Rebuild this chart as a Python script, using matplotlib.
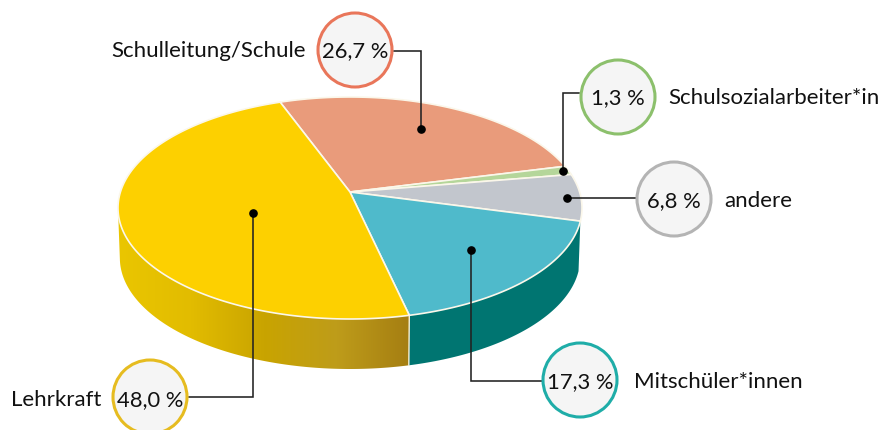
import numpy as np
import matplotlib
matplotlib.use("Agg")
import matplotlib.pyplot as plt
from matplotlib.patches import Circle, Polygon
from matplotlib.colors import LinearSegmentedColormap

# data
categories = ["Schulleitung/Schule", "Schulsozialarbeiter*in", "andere", "Mitschüler*innen", "Lehrkraft"]
shares = [26.7, 1.3, 6.8, 17.3, 48.0]
value_labels = ["26,7 %", "1,3 %", "6,8 %", "17,3 %", "48,0 %"]

# colours
top_colors = ["#E99B7B", "#B5D69A", "#C2C6CD", "#4FBACB", "#FDD000"]
ring_colors = ["#E9765A", "#8CC06C", "#B4B4B4", "#1FADA8", "#E6BC20"]

# pie geometry in pixels
CX, CY, A, B = 350, 208, 232, 111
DEPTH = 50
BOTTOM_SHRINK = 0.992
TILT = 0.144
START = 110.2

# circle centres, text and leader lines
bubbles = [(355, 50), (618, 97), (674, 199), (580, 380), (150, 397)]
baselines = [57, 104, 207, 388, 406]
label_x = [306, 668, 724, 634, 11]
label_ha = ["right", "left", "left", "left", "left"]
leaders = [
    [(394, 51), (421, 51), (421, 129)],
    [(579, 93), (563, 93), (563, 171)],
    [(636, 198), (567, 198)],
    [(542, 381), (471, 381), (471, 250)],
    [(189, 397), (253, 397), (253, 213)],
]

plt.rcParams["font.family"] = ["Lato", "DejaVu Sans"]


def project(theta):
    # the disc is seen in perspective, so its centre sits above the ellipse centre
    t = np.radians(theta)
    X, Y = np.cos(t), np.sin(t)
    d = 1 + TILT * Y
    u = X * np.sqrt(1 - TILT ** 2) / d
    v = (Y + TILT) / d
    return CX + A * u, CY - B * v


fig = plt.figure(figsize=(8.86, 4.30), dpi=100)
ax = fig.add_axes([0, 0, 1, 1])

# wedge limits from the shares, clockwise
fractions = np.array(shares) / sum(shares)
ends = START - 360 * np.cumsum(fractions)
starts = np.concatenate([[START], ends[:-1]])

# side wall of teal and yellow
side_grad = LinearSegmentedColormap.from_list(
    "side", ["#EAC600", "#E2BC00", "#C9A400", "#BE9C1A", "#A57E12"])
for i in [3, 4]:
    th = np.linspace(starts[i], ends[i], 300)
    x, y = project(th)
    keep = y >= CY
    x, y = x[keep], y[keep]
    xb = CX + (x - CX) * BOTTOM_SHRINK
    pts = np.concatenate([np.c_[x, y], np.c_[xb[::-1], y[::-1] + DEPTH]])
    if i == 3:
        ax.add_patch(Polygon(pts, closed=True, fc="#007571", ec="none", zorder=1))
    else:
        poly = Polygon(pts, closed=True, fc="none", ec="none", zorder=1)
        ax.add_patch(poly)
        im = ax.imshow(np.linspace(0, 1, 256)[None, :], cmap=side_grad, aspect="auto",
                       extent=(x.min(), x.max(), y.max() + DEPTH, y.min()), zorder=1)
        im.set_clip_path(poly)
        ax.plot([x[0], xb[0]], [y[0], y[0] + DEPTH], color="#F4EFD8", lw=1, zorder=1.5)

# top face
apex = (CX, CY - B * TILT)
for i in range(5):
    th = np.linspace(starts[i], ends[i], 200)
    x, y = project(th)
    pts = np.concatenate([[apex], np.c_[x, y]])
    ax.add_patch(Polygon(pts, closed=True, fc=top_colors[i], ec="#FBF7EA", lw=1.2,
                         joinstyle="round", zorder=2))

# leader lines and dots
for line in leaders:
    xs = [p[0] for p in line]
    ys = [p[1] for p in line]
    ax.plot(xs, ys, color="#222222", lw=1.15, zorder=3, solid_joinstyle="miter")
    ax.plot(xs[-1], ys[-1], "o", color="black", ms=5.2, zorder=4)

# bubbles and text
for i in range(5):
    ax.add_patch(Circle(bubbles[i], 37, fc="#F5F5F5", ec=ring_colors[i], lw=2.2, zorder=5))
    ax.text(bubbles[i][0], baselines[i], value_labels[i], ha="center", va="baseline",
            fontsize=15.8, color="#111111", zorder=6)
    ax.text(label_x[i], baselines[i], categories[i], ha=label_ha[i], va="baseline",
            fontsize=16, color="#111111", zorder=6)

ax.set_xlim(0, 886)
ax.set_ylim(430, 0)
ax.axis("off")
fig.savefig("out.png", dpi=100)
